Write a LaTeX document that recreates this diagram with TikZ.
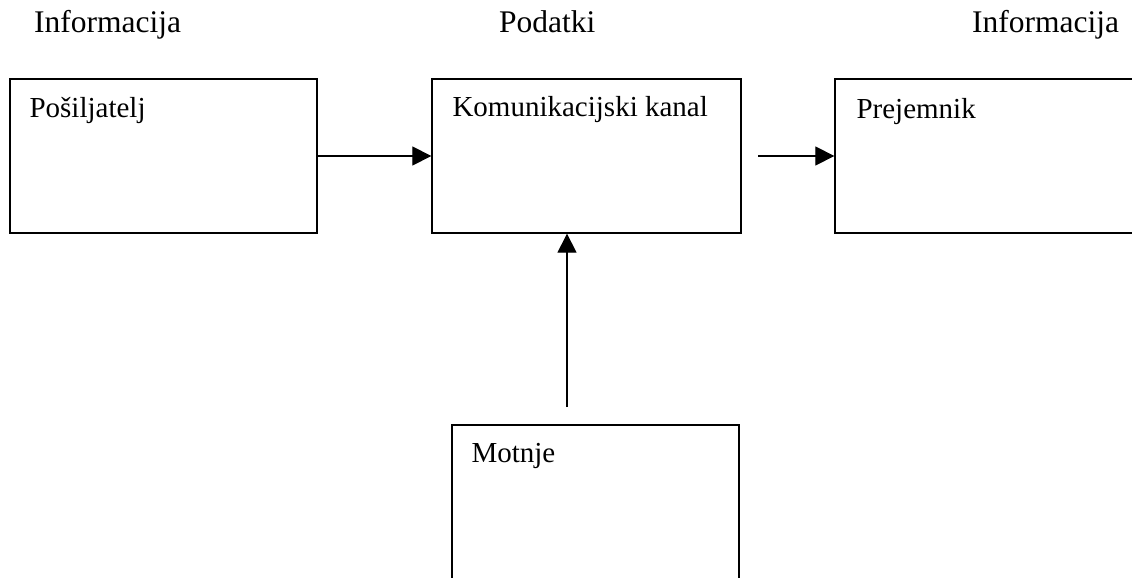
\documentclass[tikz,border=0pt]{standalone}
\usepackage{fontspec}
\setmainfont{Liberation Serif}
\usetikzlibrary{arrows.meta,calc}

\tikzset{
  box/.style={draw=black, line width=1.3pt, rectangle, inner sep=0pt},
  boxtext/.style={anchor=base west, inner sep=0pt, font=\fontsize{29}{34}\selectfont},
  heading/.style={anchor=base west, inner sep=0pt, font=\fontsize{31.5}{36}\selectfont},
  flow/.style={line width=1.2pt, -{Triangle[length=19pt,width=19pt]}}
}

\begin{document}
\begin{tikzpicture}[x=1pt,y=-1pt]
  \useasboundingbox (0,0) rectangle (1132,578);
  \clip (0,0) rectangle (1132,578);
  \fill[white] (0,0) rectangle (1132,578);

  % headings above the blocks
  \node[heading] (h1) at (34,33) {Informacija};
  \node[heading] (h2) at (499,33) {Podatki};
  \node[heading] (h3) at (972,33) {Informacija};

  % blocks
  \node[box, minimum width=307pt, minimum height=154pt] (send) at (163.5,156) {};
  \node[box, minimum width=309pt, minimum height=154pt] (chan) at (586.5,156) {};
  \node[box, minimum width=305pt, minimum height=154pt] (recv) at (987.5,156) {};
  \node[box, minimum width=287pt, minimum height=170pt] (noise) at (595.5,510) {};

  % block captions
  \node[boxtext] (t1) at ($(send.north west)+(20,39)$) {Pošiljatelj};
  \node[boxtext] (t2) at ($(chan.north west)+(21,38)$) {Komunikacijski kanal};
  \node[boxtext] (t3) at ($(recv.north west)+(22,40)$) {Prejemnik};
  \node[boxtext] (t4) at ($(noise.north west)+(20,38)$) {Motnje};

  % connectors
  \coordinate (out) at (758,156);
  \coordinate (up) at (567,407);
  \draw[flow] (send.east) -- (chan.west);
  \draw[flow] (out) -- (recv.west);
  \draw[flow] (up) -- (up |- chan.south);
\end{tikzpicture}
\end{document}
